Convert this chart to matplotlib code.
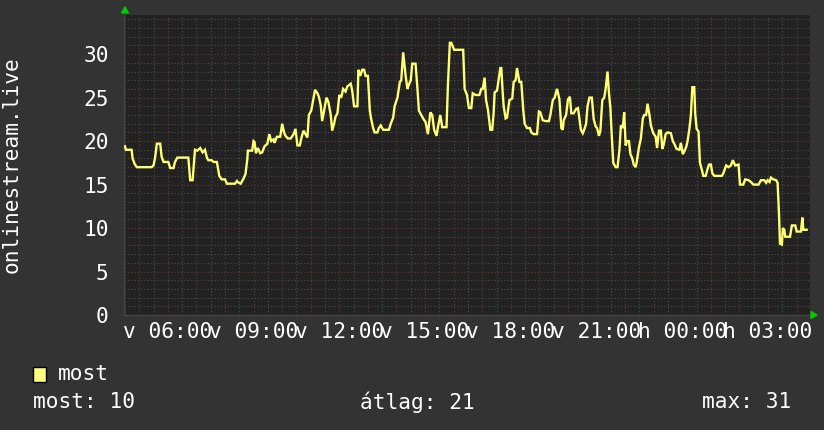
import matplotlib
matplotlib.use("Agg")
import matplotlib.pyplot as plt
from matplotlib.patches import Polygon, Rectangle
from matplotlib.ticker import MultipleLocator, FixedLocator, FixedFormatter

# ---- data: clock minutes since Sunday 00:00, listener counts ----
times = [270, 272, 284, 286, 291, 295, 326, 330, 333, 337, 344, 347, 351, 361, 365, 372, 375, 380,
         403, 407, 412, 417, 422, 428, 433, 438, 442, 445, 452, 456, 463, 468, 473, 480, 484, 501,
         505, 506, 513, 519, 523, 527, 528, 537, 540, 542, 545, 549, 554, 558, 563, 569, 573, 577,
         582, 584, 589, 596, 600, 604, 607, 612, 618, 624, 628, 632, 637, 641, 645, 649, 653, 656,
         661, 666, 669, 674, 677, 681, 684, 688, 693, 697, 702, 705, 709, 712, 716, 720, 724, 728,
         733, 737, 744, 747, 751, 758, 760, 764, 768, 772, 775, 780, 784, 787, 791, 794, 800, 803,
         807, 812, 824, 828, 833, 836, 842, 847, 850, 854, 856, 859, 863, 866, 870, 873, 880, 884,
         887, 892, 897, 901, 906, 911, 915, 919, 924, 927, 932, 936, 945, 948, 952, 955, 961, 980,
         982, 983, 988, 992, 997, 1000, 1006, 1014, 1018, 1021, 1025, 1028, 1032, 1037, 1041, 1044,
         1046, 1051, 1055, 1058, 1060, 1063, 1065, 1069, 1072, 1077, 1083, 1086, 1090, 1093, 1098,
         1102, 1106, 1109, 1114, 1120, 1123, 1128, 1135, 1139, 1142, 1147, 1153, 1160, 1163, 1168,
         1172, 1177, 1182, 1186, 1189, 1191, 1196, 1200, 1204, 1207, 1212, 1217, 1221, 1224, 1227,
         1231, 1234, 1238, 1241, 1245, 1250, 1254, 1258, 1261, 1265, 1268, 1272, 1276, 1279, 1283,
         1286, 1289, 1292, 1295, 1300, 1304, 1308, 1311, 1315, 1318, 1321, 1324, 1328, 1331, 1335,
         1338, 1342, 1344, 1349, 1353, 1357, 1360, 1364, 1367, 1371, 1374, 1379, 1384, 1387, 1391,
         1395, 1398, 1401, 1405, 1409, 1416, 1420, 1423, 1428, 1434, 1437, 1441, 1444, 1448, 1451,
         1455, 1458, 1461, 1465, 1467, 1470, 1474, 1477, 1481, 1484, 1489, 1493, 1496, 1500, 1503,
         1507, 1523, 1526, 1532, 1537, 1542, 1546, 1551, 1558, 1561, 1568, 1572, 1579, 1584, 1589,
         1600, 1605, 1612, 1616, 1619, 1623, 1626, 1631, 1637, 1640, 1643, 1645, 1649, 1651, 1654,
         1656, 1666, 1670, 1677, 1680, 1689, 1692, 1694, 1701]
values = [19.4, 19.0, 19.0, 18.0, 17.3, 17.0, 17.0, 17.2, 18.0, 19.7, 19.7, 18.2, 17.6, 17.6, 16.9,
          16.9, 17.6, 18.1, 18.1, 15.5, 15.5, 19.0, 18.9, 19.2, 18.7, 19.0, 18.1, 17.8, 17.8, 17.6,
          17.6, 16.0, 15.6, 15.6, 15.1, 15.1, 15.4, 15.3, 15.1, 15.7, 16.2, 18.0, 18.9, 18.9, 20.0,
          19.9, 18.6, 19.2, 18.6, 18.7, 19.4, 19.7, 20.8, 20.0, 20.2, 19.8, 20.5, 20.5, 22.0, 21.0,
          20.6, 20.3, 20.3, 20.8, 21.4, 19.5, 19.5, 20.5, 21.2, 20.8, 20.4, 23.0, 23.5, 25.0, 25.9,
          25.5, 25.1, 24.1, 22.3, 23.5, 25.0, 24.5, 23.0, 21.2, 22.0, 22.8, 23.2, 25.3, 25.0, 26.0,
          25.7, 26.3, 26.6, 25.8, 24.0, 24.0, 28.2, 27.5, 28.2, 28.2, 27.5, 27.5, 23.5, 22.5, 21.5,
          21.0, 21.0, 21.5, 21.8, 21.3, 21.3, 22.0, 22.7, 24.0, 25.0, 26.8, 27.0, 30.2, 29.2, 27.6,
          26.0, 26.5, 27.0, 28.9, 28.9, 26.0, 23.5, 23.0, 22.5, 22.2, 20.8, 23.3, 23.0, 21.3, 20.6,
          21.6, 23.0, 21.6, 21.6, 26.5, 31.3, 31.3, 30.5, 30.5, 27.5, 26.0, 25.3, 23.8, 23.8, 25.5,
          25.3, 25.3, 26.0, 26.0, 27.3, 24.7, 23.6, 21.3, 21.3, 23.3, 25.6, 25.8, 27.3, 28.4, 28.4,
          25.5, 24.0, 22.6, 22.7, 24.7, 24.9, 26.8, 27.0, 28.4, 26.8, 26.8, 23.6, 22.0, 21.5, 21.5,
          21.0, 20.8, 20.8, 23.4, 23.3, 22.4, 22.3, 22.3, 23.0, 24.7, 25.0, 26.0, 24.8, 21.5, 21.3,
          22.4, 23.0, 24.8, 25.1, 23.2, 23.2, 23.7, 23.8, 22.5, 21.3, 20.9, 21.3, 22.0, 24.0, 25.0,
          25.0, 22.5, 21.7, 21.5, 20.6, 21.2, 24.7, 25.0, 26.0, 28.0, 25.5, 23.8, 20.5, 17.5, 17.0,
          17.0, 19.0, 21.8, 21.5, 23.3, 19.5, 20.0, 20.0, 18.5, 18.0, 17.3, 17.0, 17.5, 19.3, 20.3,
          22.6, 23.0, 23.0, 24.3, 23.0, 21.8, 20.9, 20.5, 19.2, 21.2, 21.2, 19.1, 19.6, 20.8, 21.0,
          20.9, 20.0, 19.7, 19.1, 19.0, 19.8, 18.5, 18.8, 19.3, 20.0, 21.5, 23.0, 26.2, 26.2, 23.2,
          21.4, 21.1, 17.5, 16.7, 16.0, 16.0, 16.8, 17.3, 17.3, 16.3, 16.0, 16.0, 16.3, 17.2, 17.0,
          17.2, 17.8, 17.2, 17.3, 15.0, 15.0, 15.6, 15.5, 15.3, 15.0, 15.0, 15.5, 15.5, 15.2, 15.5,
          15.3, 15.8, 15.6, 15.5, 15.2, 11.5, 8.2, 8.1, 10.0, 9.8, 9.0, 9.0, 10.3, 10.3, 9.6, 9.6,
          11.2, 9.8, 9.8]

tick_minutes = [360, 540, 720, 900, 1080, 1260, 1440, 1620]
tick_labels = ["v 06:00", "v 09:00", "v 12:00", "v 15:00", "v 18:00", "v 21:00", "h 00:00", "h 03:00"]
y_ticks = [0, 5, 10, 15, 20, 25, 30]
x_start, x_end = 268, 1708
y_max = 34.5

series_name = "most"
stat_labels = ["most: 10", "átlag: 21", "max: 31"]
y_title = "onlinestream.live"

# ---- style ----
FONT = "DejaVu Sans Mono"
FS = 15.2
BG = "#333333"
CANVAS = "#222222"
MINOR = "#4e4e4e"
MAJOR = "#703535"
LINE = "#ffff73"
W, H = 824, 430

fig = plt.figure(figsize=(W / 100, H / 100), dpi=100, facecolor=BG)
ax = fig.add_axes([124 / W, 115 / H, 686 / W, 300 / H], facecolor=CANVAS)

ax.set_xlim(x_start, x_end)
ax.set_ylim(0, y_max)

# major (red) every hour, labels every 3 hours; minor (grey) every 30 min
hour_ticks = list(range(300, x_end + 1, 60))
ax.xaxis.set_major_locator(FixedLocator(hour_ticks))
ax.xaxis.set_major_formatter(FixedFormatter(
    [tick_labels[tick_minutes.index(t)] if t in tick_minutes else "" for t in hour_ticks]))
ax.xaxis.set_minor_locator(MultipleLocator(30))
ax.yaxis.set_major_locator(FixedLocator(y_ticks))
ax.yaxis.set_minor_locator(MultipleLocator(1))

dots = (0, (1, 2))
ax.grid(which="minor", color=MINOR, linestyle=dots, linewidth=0.8)
ax.grid(which="major", color=MAJOR, linestyle=dots, linewidth=0.8)
ax.set_axisbelow(True)

ax.tick_params(which="both", length=0, colors="white", labelsize=FS)
ax.tick_params(axis="x", pad=5)
ax.tick_params(axis="y", pad=11)
for lab in ax.get_xticklabels() + ax.get_yticklabels():
    lab.set_fontfamily(FONT)

for side in ["top", "right"]:
    ax.spines[side].set_visible(False)
for side in ["left", "bottom"]:
    ax.spines[side].set_color("#444444")
    ax.spines[side].set_linewidth(1)

ax.plot(times, values, color=LINE, linewidth=1.7, solid_joinstyle="miter", zorder=3)

# y title
fig.text(12 / W, 1 - 165 / H, y_title, rotation=90, ha="center", va="center",
         color="white", fontsize=FS, family=FONT)

# green arrows
def px(x, y):
    return (x / W, 1 - y / H)
fig.patches.append(Polygon([px(125, 7), px(121.5, 13), px(128.5, 13)], closed=True,
                           transform=fig.transFigure, color="#00cc00"))
fig.patches.append(Polygon([px(817, 315), px(811, 311.5), px(811, 318.5)], closed=True,
                           transform=fig.transFigure, color="#00cc00"))

# legend
fig.patches.append(Rectangle(px(33, 382), 13 / W, 15 / H, transform=fig.transFigure,
                             facecolor="#ffff80", edgecolor="black", linewidth=1))
fig.text(58 / W, 1 - 374 / H, series_name, ha="left", va="center", color="white",
         fontsize=FS, family=FONT)
fig.text(33 / W, 1 - 402 / H, stat_labels[0], ha="left", va="center", color="white",
         fontsize=FS, family=FONT)
fig.text(417 / W, 1 - 402 / H, stat_labels[1], ha="center", va="center", color="white",
         fontsize=FS, family=FONT)
fig.text(791 / W, 1 - 402 / H, stat_labels[2], ha="right", va="center", color="white",
         fontsize=FS, family=FONT)

fig.savefig("out.png", dpi=100, facecolor=BG)
